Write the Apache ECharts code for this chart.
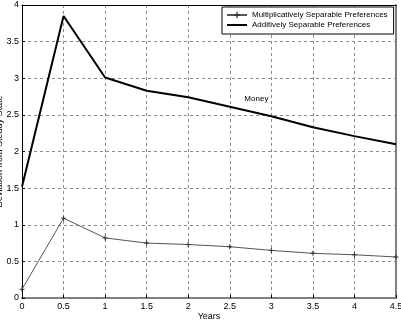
<!DOCTYPE html>
<html>
<head>
<meta charset="utf-8">
<script src="https://cdn.jsdelivr.net/npm/echarts@6/dist/echarts.min.js"></script>
<style>
html, body { margin: 0; padding: 0; background: #fff; }
#chart { width: 401px; height: 322px; }
</style>
</head>
<body>
<div id="chart"></div>
<script>
// 数据
var years = [0, 0.5, 1, 1.5, 2, 2.5, 3, 3.5, 4, 4.5]
var multiplicative = [0.12, 1.09, 0.82, 0.75, 0.73, 0.70, 0.65, 0.61, 0.59, 0.56]
var additive = [1.52, 3.85, 3.01, 2.83, 2.74, 2.61, 2.48, 2.33, 2.21, 2.10]
var seriesNames = ['Multiplicatively Separable Preferences', 'Additively Separable Preferences']
var moneyLabel = ['Money', 2.82, 2.72]

var font = 'Liberation Sans'

function pairs(xs, ys) {
    return xs.map(function (x, i) { return [x, ys[i]] })
}

var dash = { color: '#8c8c8c', type: [3, 3], width: 1 }

var chart = echarts.init(document.getElementById('chart'))

var option = {
    backgroundColor: '#fff',
    animation: false,
    textStyle: { fontFamily: font },
    grid: { left: 22, right: 5, top: 5, bottom: 24, containLabel: false, outerBoundsMode: 'none' },
    legend: {
        orient: 'vertical',
        left: 222,
        top: 7,
        data: [
            { name: seriesNames[0] },
            { name: seriesNames[1], icon: 'path://M0,0L0,0M0,3L20,3L20,5L0,5ZM20,8L20,8' }
        ],
        backgroundColor: '#fff',
        borderColor: '#000',
        borderWidth: 1,
        borderRadius: 0,
        padding: [4, 6, 5, 4],
        itemGap: 2,
        itemWidth: 20,
        itemHeight: 8,
        textStyle: { fontSize: 8, color: '#000', fontFamily: font }
    },
    xAxis: [{
        type: 'value',
        min: 0,
        max: 4.5,
        interval: 0.5,
        name: 'Years',
        nameLocation: 'middle',
        nameGap: 14,
        nameMoveOverlap: false,
        nameTextStyle: { fontSize: 9, color: '#000' },
        axisLine: { lineStyle: { color: '#808080', width: 2 } },
        axisTick: { inside: true, length: 3, lineStyle: { color: '#000' } },
        axisLabel: { fontSize: 9, color: '#000', margin: 4 },
        splitLine: { show: true, lineStyle: dash }
    }, {
        type: 'value',
        position: 'top',
        min: 0,
        max: 4.5,
        interval: 0.5,
        axisLine: { show: true, onZero: false, lineStyle: { color: '#000', width: 1 } },
        axisTick: { show: false },
        axisLabel: { show: false },
        splitLine: { show: false }
    }],
    yAxis: [{
        type: 'value',
        min: 0,
        max: 4,
        interval: 0.5,
        name: 'Deviation from Steady State',
        nameLocation: 'middle',
        nameGap: 18,
        nameMoveOverlap: false,
        nameTextStyle: { fontSize: 9, color: '#000' },
        axisLine: { show: true, lineStyle: { color: '#000', width: 1 } },
        axisTick: { inside: true, length: 3, lineStyle: { color: '#000' } },
        axisLabel: { fontSize: 9, color: '#000', margin: 3 },
        splitLine: { show: true, lineStyle: dash }
    }, {
        type: 'value',
        position: 'right',
        min: 0,
        max: 4,
        interval: 0.5,
        axisLine: { show: true, onZero: false, lineStyle: { color: '#808080', width: 2 } },
        axisTick: { show: false },
        axisLabel: { show: false },
        splitLine: { show: false }
    }],
    series: [{
        name: seriesNames[0],
        type: 'line',
        data: pairs(years, multiplicative),
        symbol: 'path://M4,0L6,0L6,4L10,4L10,6L6,6L6,10L4,10L4,6L0,6L0,4L4,4Z',
        symbolSize: 5,
        itemStyle: { color: '#333' },
        lineStyle: { color: '#555', width: 1 },
        z: 3
    }, {
        name: seriesNames[1],
        type: 'line',
        data: pairs(years, additive),
        symbol: 'none',
        itemStyle: { color: '#000' },
        lineStyle: { color: '#000', width: 2 },
        markPoint: {
            symbol: 'circle',
            symbolSize: 1,
            itemStyle: { color: 'rgba(0,0,0,0)' },
            label: { show: true, position: 'inside', formatter: moneyLabel[0], fontSize: 8, color: '#000' },
            data: [{ coord: [moneyLabel[1], moneyLabel[2]] }]
        },
        z: 4
    }]
}

chart.setOption(option)
</script>
</body>
</html>
